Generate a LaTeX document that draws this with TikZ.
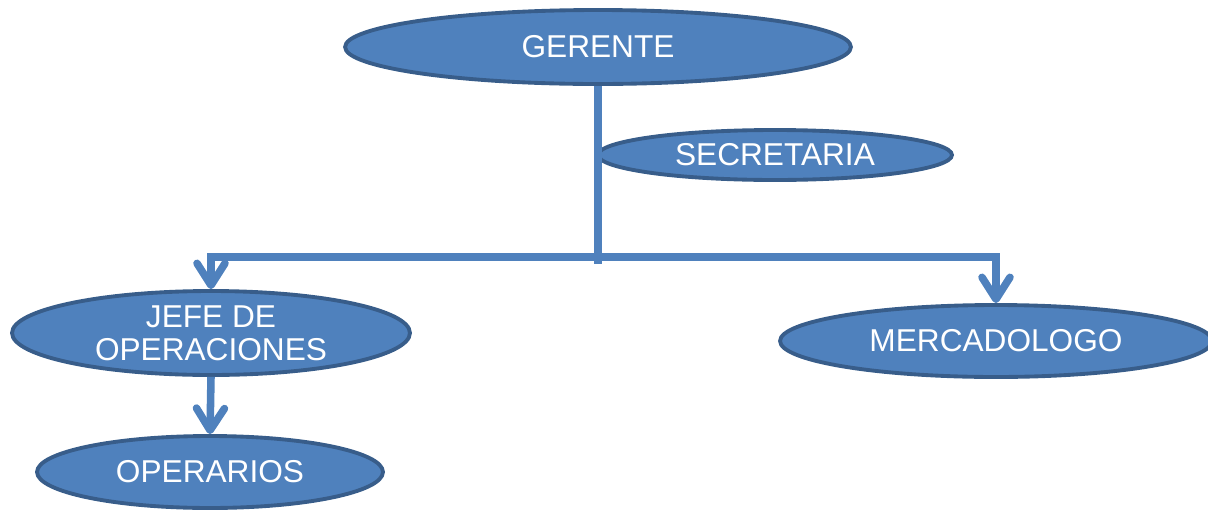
\documentclass[tikz,border=0pt]{standalone}
\usepackage{fontspec}
\setmainfont{Liberation Sans}
\usepackage{xcolor}
\usepackage{tikz}
\usetikzlibrary{arrows.meta,positioning,calc,shapes.geometric}
\definecolor{azul}{HTML}{4F81BD}
\definecolor{borde}{HTML}{385D8A}

\begin{document}
\begin{tikzpicture}[x=0.02cm,y=-0.02cm,
  puesto/.style={ellipse,draw=borde,line width=2.2pt,fill=azul,text=white,
    inner sep=0pt,align=center,font=\fontsize{18}{19}\selectfont},
  enlace/.style={azul,line width=4.3pt},
  flecha/.style={enlace,-{Straight Barb[length=4.4mm,width=5.6mm,round]}}]
  \useasboundingbox (0,0) rectangle (1208,511);
  \node[puesto,minimum width=10.12cm,minimum height=1.48cm] (gerente) at (598,47) {GERENTE};
  \node[puesto,minimum width=7.08cm,minimum height=1cm] (secretaria) at (775,155) {SECRETARIA};
  \node[puesto,minimum width=7.96cm,minimum height=1.68cm] (jefe) at (211,333) {JEFE DE\\OPERACIONES};
  \node[puesto,minimum width=8.64cm,minimum height=1.44cm] (mercado) at (996,341) {MERCADOLOGO};
  \node[puesto,minimum width=6.92cm,minimum height=1.44cm] (operarios) at (210,472) {OPERARIOS};
  \coordinate (nudo) at (598,257);
  \coordinate (fin) at (598,264);
  % lineas de mando
  \draw[enlace] (gerente.south) -- (fin);
  \draw[flecha] (nudo) -| (jefe.north);
  \draw[flecha] (nudo) -| (mercado.north);
  \draw[flecha] (jefe.south) -- (operarios.north);
\end{tikzpicture}
\end{document}
